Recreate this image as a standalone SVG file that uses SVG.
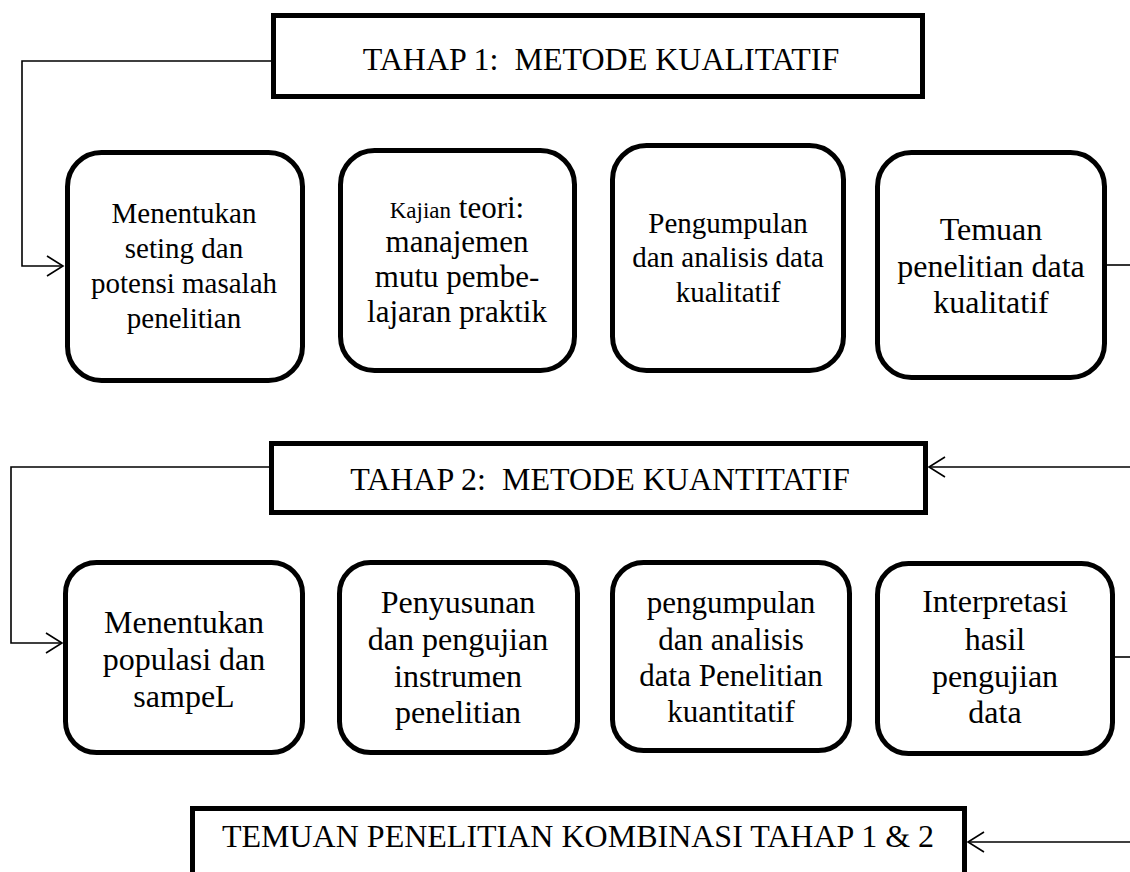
<svg xmlns="http://www.w3.org/2000/svg" width="1130" height="872" viewBox="0 0 1130 872">
<defs>
<marker id="arr" viewBox="0 0 20 24" refX="18" refY="12" markerWidth="20" markerHeight="24" markerUnits="userSpaceOnUse" orient="auto">
<path d="M2,2 L18,12 L2,22" fill="none" stroke="#000" stroke-width="1.6"/>
</marker>
</defs>
<style>
.box{fill:#fff;stroke:#000;stroke-width:5}
.t{font-family:"Liberation Serif","Times New Roman",serif;fill:#000;text-anchor:middle}
.c{fill:none;stroke:#000;stroke-width:1.6}
</style>
<rect width="1130" height="872" fill="#fff"/>
<g id="connectors">
<polyline class="c" points="273,61 22,61 22,266 63,266" marker-end="url(#arr)"/>
<line class="c" x1="1107" y1="265" x2="1130" y2="265"/>
<line class="c" x1="1130" y1="467" x2="929" y2="467" marker-end="url(#arr)"/>
<polyline class="c" points="271,467 11,467 11,643 62,643" marker-end="url(#arr)"/>
<line class="c" x1="1114" y1="657" x2="1130" y2="657"/>
<line class="c" x1="1130" y1="842" x2="968" y2="842" marker-end="url(#arr)"/>
</g>
<g id="tahap1">
<rect class="box" x="273.5" y="15.5" width="649" height="81"/>
<text class="t" x="601" y="70" font-size="32" xml:space="preserve">TAHAP 1:  METODE KUALITATIF</text>
</g>
<g id="n1">
<rect class="box" x="67.5" y="152.5" width="235" height="228" rx="34"/>
<text class="t" font-size="29"><tspan x="184" y="223">Menentukan</tspan><tspan x="184" y="258">seting dan</tspan><tspan x="184" y="293">potensi masalah</tspan><tspan x="184" y="328">penelitian</tspan></text>
</g>
<g id="n2">
<rect class="box" x="340.5" y="150.5" width="234" height="220" rx="34"/>
<text class="t" font-size="31"><tspan x="457" y="218"><tspan font-size="23">Kajian</tspan> teori:</tspan><tspan x="457" y="252">manajemen</tspan><tspan x="457" y="287">mutu pembe-</tspan><tspan x="457" y="322">lajaran praktik</tspan></text>
</g>
<g id="n3">
<rect class="box" x="612.5" y="145.5" width="231" height="225" rx="34"/>
<text class="t" font-size="29"><tspan x="728" y="233">Pengumpulan</tspan><tspan x="728" y="267">dan analisis data</tspan><tspan x="728" y="302">kualitatif</tspan></text>
</g>
<g id="n4">
<rect class="box" x="877.5" y="152.5" width="227" height="225" rx="34"/>
<text class="t" font-size="32"><tspan x="991" y="240">Temuan</tspan><tspan x="991" y="277">penelitian data</tspan><tspan x="991" y="313">kualitatif</tspan></text>
</g>
<g id="tahap2">
<rect class="box" x="271.5" y="443.5" width="654" height="69"/>
<text class="t" x="600" y="490" font-size="32" xml:space="preserve">TAHAP 2:  METODE KUANTITATIF</text>
</g>
<g id="m1">
<rect class="box" x="65.5" y="562.5" width="237" height="190" rx="31"/>
<text class="t" font-size="32"><tspan x="184" y="633">Menentukan</tspan><tspan x="184" y="670">populasi dan</tspan><tspan x="184" y="707">sampeL</tspan></text>
</g>
<g id="m2">
<rect class="box" x="339.5" y="562.5" width="238" height="190" rx="31"/>
<text class="t" font-size="32"><tspan x="458" y="613">Penyusunan</tspan><tspan x="458" y="650">dan pengujian</tspan><tspan x="458" y="687">instrumen</tspan><tspan x="458" y="723">penelitian</tspan></text>
</g>
<g id="m3">
<rect class="box" x="612.5" y="562.5" width="237" height="188" rx="31"/>
<text class="t" font-size="31"><tspan x="731" y="613">pengumpulan</tspan><tspan x="731" y="650">dan analisis</tspan><tspan x="731" y="686">data Penelitian</tspan><tspan x="731" y="722">kuantitatif</tspan></text>
</g>
<g id="m4">
<rect class="box" x="877.5" y="563.5" width="235" height="190" rx="31"/>
<text class="t" font-size="32"><tspan x="995" y="612">Interpretasi</tspan><tspan x="995" y="650">hasil</tspan><tspan x="995" y="687">pengujian</tspan><tspan x="995" y="723">data</tspan></text>
</g>
<g id="final">
<rect class="box" x="192.5" y="808.5" width="772" height="80"/>
<text class="t" x="578" y="847" font-size="32">TEMUAN PENELITIAN KOMBINASI TAHAP 1 &amp; 2</text>
</g>
</svg>
